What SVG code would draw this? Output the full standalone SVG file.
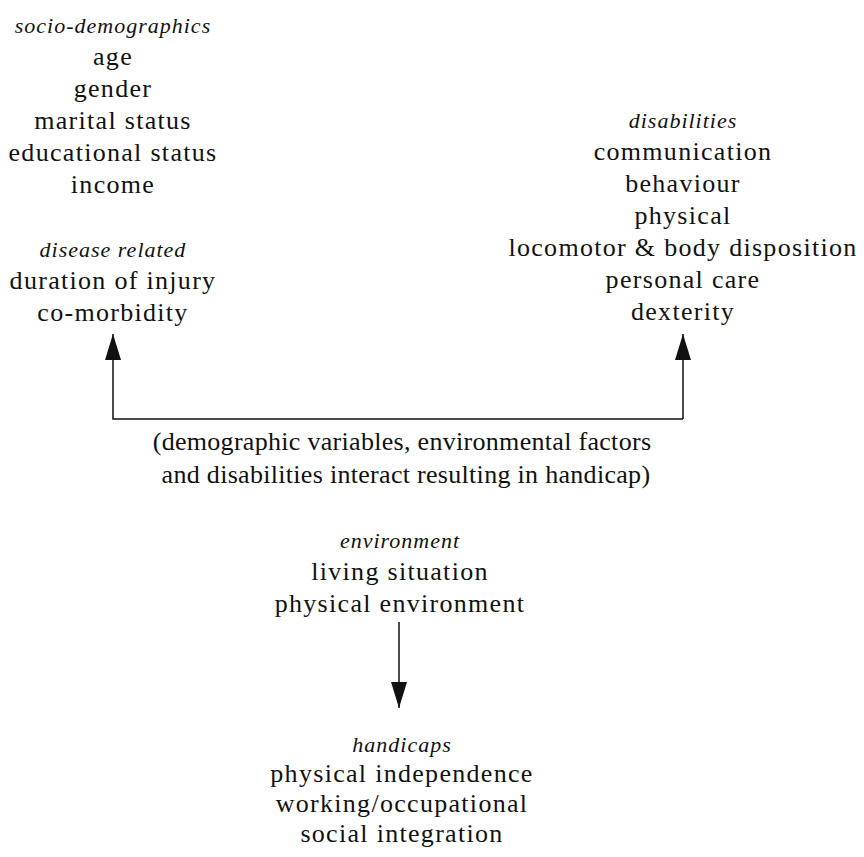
<svg xmlns="http://www.w3.org/2000/svg" width="864" height="857" viewBox="0 0 864 857">
<style>
text{font-family:"Liberation Serif","Times New Roman",serif;fill:#111;text-anchor:middle}
.r{font-size:26px;letter-spacing:1.3px}
.m{font-size:26px;letter-spacing:0.3px}
.i{font-size:22px;font-style:italic;letter-spacing:1px}
.ln{stroke:#111;stroke-width:1.5;fill:none}
</style>
<defs>
<marker id="ah" viewBox="0 0 26 16" refX="26" refY="8" markerWidth="26" markerHeight="16" markerUnits="userSpaceOnUse" orient="auto">
<path d="M0,0 L26,8 L0,16 Z" fill="#111"/>
</marker>
</defs>
<rect width="864" height="857" fill="#fff"/>
<g id="socio">
<text class="i" x="113" y="33">socio-demographics</text>
<text class="r" x="113" y="65">age</text>
<text class="r" x="113" y="97">gender</text>
<text class="r" x="113" y="129">marital status</text>
<text class="r" x="113" y="161">educational status</text>
<text class="r" x="113" y="193">income</text>
<text class="i" x="113" y="257">disease related</text>
<text class="r" x="113" y="289">duration of injury</text>
<text class="r" x="113" y="321">co-morbidity</text>
</g>
<g id="disabilities">
<text class="i" x="683" y="128">disabilities</text>
<text class="r" x="683" y="160">communication</text>
<text class="r" x="683" y="192">behaviour</text>
<text class="r" x="683" y="224">physical</text>
<text class="r" x="683" y="256">locomotor &amp; body disposition</text>
<text class="r" x="683" y="288">personal care</text>
<text class="r" x="683" y="320">dexterity</text>
</g>
<g id="interaction">
<text class="m" x="402" y="450">(demographic variables, environmental factors</text>
<text class="m" x="406" y="483">and disabilities interact resulting in handicap)</text>
</g>
<g id="environment">
<text class="i" x="400" y="548">environment</text>
<text class="r" x="400" y="580">living situation</text>
<text class="r" x="400" y="612">physical environment</text>
</g>
<g id="handicaps">
<text class="i" x="402" y="752">handicaps</text>
<text class="r" x="402" y="782">physical independence</text>
<text class="r" x="402" y="812">working/occupational</text>
<text class="r" x="402" y="842">social integration</text>
</g>
<g id="connectors">
<path class="ln" d="M683,419 H113 V334" marker-end="url(#ah)"/>
<path class="ln" d="M683,419 V334" marker-end="url(#ah)"/>
<path class="ln" d="M399,622 V708" marker-end="url(#ah)"/>
</g>
</svg>
